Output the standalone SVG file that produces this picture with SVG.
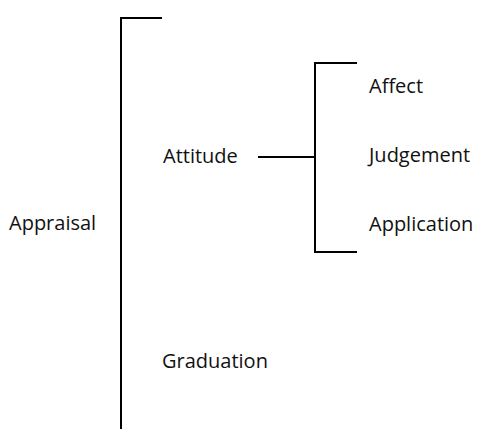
<svg xmlns="http://www.w3.org/2000/svg" width="477" height="429" viewBox="0 0 477 429">
  <style>
    .lbl { font-family: "Open Sans", "Liberation Sans", sans-serif; font-size: 20px; fill: #111; }
    .ln { stroke: #000; stroke-width: 2; fill: none; stroke-linecap: butt; }
  </style>
  <rect width="477" height="429" fill="#fff"/>
  <g id="connectors">
    <!-- main bracket -->
    <path class="ln" d="M162 18 H121 V429"/>
    <!-- attitude branch -->
    <path class="ln" d="M258 157 H315"/>
    <path class="ln" d="M357 63 H315 V252 H357"/>
  </g>
  <g id="appraisal"><text class="lbl" x="9" y="230">Appraisal</text></g>
  <g id="attitude"><text class="lbl" x="163" y="163">Attitude</text></g>
  <g id="graduation"><text class="lbl" x="162" y="368">Graduation</text></g>
  <g id="affect"><text class="lbl" x="369" y="93">Affect</text></g>
  <g id="judgement"><text class="lbl" x="369" y="162">Judgement</text></g>
  <g id="application"><text class="lbl" x="369" y="231">Application</text></g>
</svg>
